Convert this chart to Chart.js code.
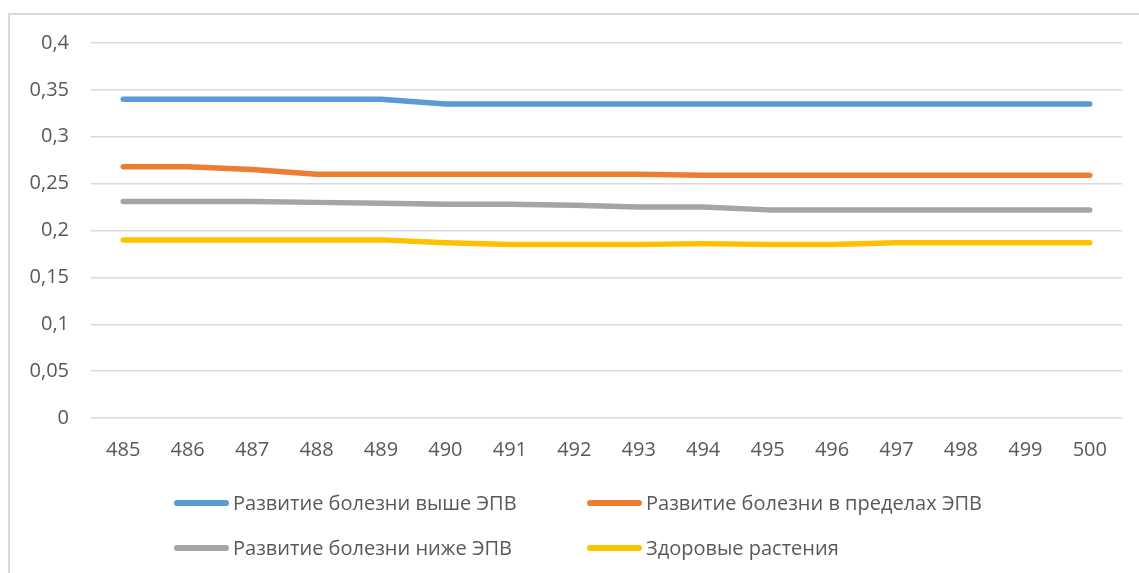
<!DOCTYPE html>
<html>
<head>
<meta charset="utf-8">
<script src="https://cdn.jsdelivr.net/npm/chart.js@4"></script>
<style>
  html, body { margin: 0; padding: 0; background: #fff; overflow: hidden; }
  #wrap { position: relative; width: 1139px; height: 573px; overflow: hidden; }
  #frame { position: absolute; left: 8px; top: 13px; width: 1300px; height: 800px; border: 2px solid #d9d9d9; box-sizing: border-box; }
  canvas { position: absolute; left: 0; top: 0; }
  .leg { position: absolute; font-family: "Open Sans", sans-serif; font-size: 20px; color: #595959; white-space: nowrap; }
  .leg .sw { position: absolute; left: 0; top: 50%; height: 6px; margin-top: -3px; width: 55px; border-radius: 3px; }
  .leg .tx { position: absolute; left: 59px; top: 50%; transform: translateY(-50%); line-height: 1; }
</style>
</head>
<body>
<div id="wrap">
  <div id="frame"></div>
  <canvas id="c" width="1139" height="573"></canvas>
  <div id="legend"></div>
</div>
<script>
const categories = ['485','486','487','488','489','490','491','492','493','494','495','496','497','498','499','500'];
const seriesNames = ['Развитие болезни выше ЭПВ','Развитие болезни в пределах ЭПВ','Развитие болезни ниже ЭПВ','Здоровые растения'];
const above   = [0.34,0.34,0.34,0.34,0.34,0.335,0.335,0.335,0.335,0.335,0.335,0.335,0.335,0.335,0.335,0.335];
const within  = [0.268,0.268,0.265,0.26,0.26,0.26,0.26,0.26,0.26,0.259,0.259,0.259,0.259,0.259,0.259,0.259];
const below   = [0.231,0.231,0.231,0.23,0.229,0.228,0.228,0.227,0.225,0.225,0.222,0.222,0.222,0.222,0.222,0.222];
const healthy = [0.19,0.19,0.19,0.19,0.19,0.187,0.185,0.185,0.185,0.186,0.185,0.185,0.187,0.187,0.187,0.187];
const yTickLabels = ['0','0,05','0,1','0,15','0,2','0,25','0,3','0,35','0,4'];
const colors = ['#5B9BD5','#ED7D31','#A5A5A5','#FFC000'];

const seriesValues = [above, within, below, healthy];
const datasets = seriesValues.map((vals, i) => ({
  label: seriesNames[i],
  data: vals,
  borderColor: colors[i],
  backgroundColor: colors[i],
  borderWidth: 5.5,
  borderCapStyle: 'round',
  borderJoinStyle: 'round',
  pointRadius: 0,
  pointHoverRadius: 0,
  tension: 0,
  fill: false
}));

const FONT = { family: '"Open Sans", sans-serif', size: 20 };

const chart = new Chart(document.getElementById('c'), {
  type: 'line',
  data: { labels: categories, datasets },
  options: {
    responsive: false,
    animation: false,
    events: [],
    layout: { padding: { left: 0, top: 43, right: 17, bottom: 0 } },
    plugins: { legend: { display: false }, tooltip: { enabled: false } },
    scales: {
      x: {
        offset: true,
        grid: { display: false, drawTicks: false },
        border: { display: false },
        ticks: { color: '#595959', font: FONT, padding: 20, maxRotation: 0, autoSkip: false },
        afterFit: s => { s.height = 155; }
      },
      y: {
        min: 0, max: 0.4,
        grid: { color: '#d9d9d9', lineWidth: 1.5, drawTicks: false },
        border: { display: false },
        ticks: {
          stepSize: 0.05,
          color: '#595959', font: FONT, padding: 22,
          callback: (v, idx) => yTickLabels[idx]
        },
        afterFit: s => { s.width = 91; }
      }
    }
  }
});

// HTML legend in two aligned columns
const legendPos = [[174, 503], [587, 503], [174, 548], [587, 548]];
const leg = document.getElementById('legend');
chart.data.datasets.forEach((ds, i) => {
  const d = document.createElement('div');
  d.className = 'leg';
  d.style.left = legendPos[i][0] + 'px';
  d.style.top = (legendPos[i][1] - 15) + 'px';
  d.style.height = '30px';
  d.style.width = '420px';
  const sw = document.createElement('div');
  sw.className = 'sw';
  sw.style.background = ds.borderColor;
  const tx = document.createElement('div');
  tx.className = 'tx';
  tx.textContent = ds.label;
  d.appendChild(sw); d.appendChild(tx);
  leg.appendChild(d);
});
</script>
</body>
</html>
